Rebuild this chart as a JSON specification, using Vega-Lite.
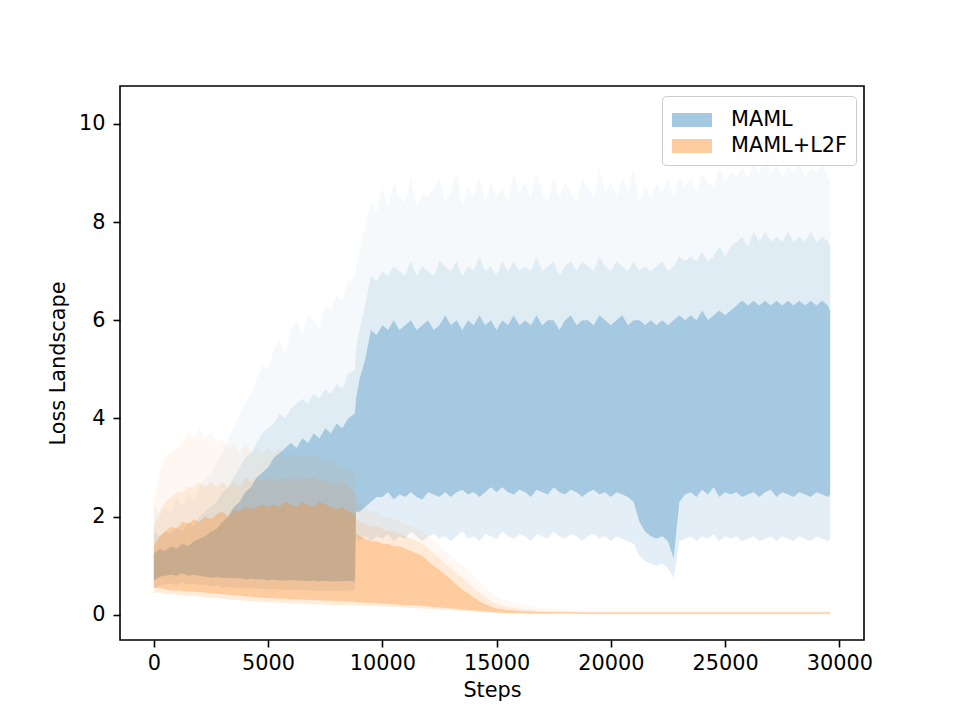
{
"$schema": "https://vega.github.io/schema/vega-lite/v6.json",
"width": 744, "height": 554,
"autosize": "none",
"padding": {"left": 120, "top": 86, "right": 96, "bottom": 80},
"background": "white",
"config": {
  "font": "DejaVu Sans",
  "view": {"stroke": "black", "strokeWidth": 1.6},
  "axis": {"domain": false, "grid": false, "tickColor": "black", "tickWidth": 1.6, "tickSize": 7,
           "labelFont": "DejaVu Sans", "labelFontSize": 20.8, "labelColor": "black",
           "titleFont": "DejaVu Sans", "titleFontSize": 20.8, "titleFontWeight": "normal", "titleColor": "black"},
  "axisX": {"labelPadding": 6, "titlePadding": 8},
  "axisY": {"labelPadding": 8, "titlePadding": 10},
  "legend": {"orient": "none", "legendX": 542, "legendY": 10, "padding": 9, "strokeColor": "#cccccc",
             "fillColor": "rgba(255,255,255,0.8)", "cornerRadius": 4, "labelFont": "DejaVu Sans",
             "labelFontSize": 20.8, "labelColor": "black",
             "symbolType": "M-1.333,-0.467L1.333,-0.467L1.333,0.467L-1.333,0.467Z",
             "symbolSize": 900, "symbolOpacity": 0.4, "symbolStrokeWidth": 0, "symbolOffset": 6, "labelOffset": 24, "rowPadding": 1}
},
"datasets": {
"maml": [
{"step":0,"lo_out":0.55,"lo":0.7,"hi":1.25,"hi_mid":1.7,"hi_out":2.3},
{"step":250,"lo_out":0.6,"lo":0.78,"hi":1.35,"hi_mid":1.6,"hi_out":2.0},
{"step":500,"lo_out":0.62,"lo":0.8,"hi":1.3,"hi_mid":1.7,"hi_out":2.2},
{"step":750,"lo_out":0.65,"lo":0.82,"hi":1.4,"hi_mid":1.65,"hi_out":2.1},
{"step":1000,"lo_out":0.6,"lo":0.8,"hi":1.35,"hi_mid":1.8,"hi_out":2.4},
{"step":1250,"lo_out":0.66,"lo":0.85,"hi":1.45,"hi_mid":1.7,"hi_out":2.2},
{"step":1500,"lo_out":0.62,"lo":0.8,"hi":1.4,"hi_mid":1.9,"hi_out":2.5},
{"step":1750,"lo_out":0.64,"lo":0.82,"hi":1.5,"hi_mid":1.8,"hi_out":2.3},
{"step":2000,"lo_out":0.6,"lo":0.8,"hi":1.55,"hi_mid":2.0,"hi_out":2.6},
{"step":2250,"lo_out":0.62,"lo":0.78,"hi":1.6,"hi_mid":2.1,"hi_out":2.8},
{"step":2500,"lo_out":0.58,"lo":0.76,"hi":1.7,"hi_mid":2.2,"hi_out":2.9},
{"step":2750,"lo_out":0.6,"lo":0.78,"hi":1.75,"hi_mid":2.3,"hi_out":3.1},
{"step":3000,"lo_out":0.55,"lo":0.75,"hi":1.9,"hi_mid":2.5,"hi_out":3.3},
{"step":3250,"lo_out":0.58,"lo":0.76,"hi":2.0,"hi_mid":2.6,"hi_out":3.6},
{"step":3500,"lo_out":0.56,"lo":0.74,"hi":2.2,"hi_mid":2.8,"hi_out":3.8},
{"step":3750,"lo_out":0.55,"lo":0.75,"hi":2.3,"hi_mid":3.0,"hi_out":4.1},
{"step":4000,"lo_out":0.54,"lo":0.72,"hi":2.5,"hi_mid":3.2,"hi_out":4.3},
{"step":4250,"lo_out":0.55,"lo":0.74,"hi":2.6,"hi_mid":3.3,"hi_out":4.5},
{"step":4500,"lo_out":0.53,"lo":0.72,"hi":2.8,"hi_mid":3.5,"hi_out":4.8},
{"step":4750,"lo_out":0.54,"lo":0.73,"hi":2.9,"hi_mid":3.7,"hi_out":5.1},
{"step":5000,"lo_out":0.52,"lo":0.7,"hi":3.0,"hi_mid":3.8,"hi_out":5.0},
{"step":5250,"lo_out":0.53,"lo":0.72,"hi":3.2,"hi_mid":3.9,"hi_out":5.4},
{"step":5500,"lo_out":0.52,"lo":0.7,"hi":3.3,"hi_mid":4.1,"hi_out":5.6},
{"step":5750,"lo_out":0.5,"lo":0.7,"hi":3.4,"hi_mid":4.0,"hi_out":5.3},
{"step":6000,"lo_out":0.52,"lo":0.71,"hi":3.5,"hi_mid":4.2,"hi_out":5.8},
{"step":6250,"lo_out":0.5,"lo":0.7,"hi":3.4,"hi_mid":4.3,"hi_out":6.0},
{"step":6500,"lo_out":0.51,"lo":0.7,"hi":3.6,"hi_mid":4.4,"hi_out":5.7},
{"step":6750,"lo_out":0.5,"lo":0.69,"hi":3.5,"hi_mid":4.3,"hi_out":6.1},
{"step":7000,"lo_out":0.5,"lo":0.7,"hi":3.7,"hi_mid":4.5,"hi_out":6.0},
{"step":7250,"lo_out":0.49,"lo":0.68,"hi":3.6,"hi_mid":4.4,"hi_out":5.8},
{"step":7500,"lo_out":0.5,"lo":0.7,"hi":3.8,"hi_mid":4.6,"hi_out":6.3},
{"step":7750,"lo_out":0.49,"lo":0.68,"hi":3.7,"hi_mid":4.5,"hi_out":6.2},
{"step":8000,"lo_out":0.5,"lo":0.69,"hi":3.9,"hi_mid":4.7,"hi_out":6.5},
{"step":8250,"lo_out":0.49,"lo":0.68,"hi":3.8,"hi_mid":4.6,"hi_out":6.4},
{"step":8500,"lo_out":0.5,"lo":0.7,"hi":4.0,"hi_mid":4.9,"hi_out":6.8},
{"step":8800,"lo_out":0.5,"lo":0.68,"hi":4.1,"hi_mid":5.0,"hi_out":6.9},
{"step":8850,"lo_out":1.6,"lo":2.1,"hi":4.4,"hi_mid":5.4,"hi_out":7.1},
{"step":9000,"lo_out":1.5,"lo":2.1,"hi":4.8,"hi_mid":5.8,"hi_out":7.4},
{"step":9250,"lo_out":1.6,"lo":2.2,"hi":5.2,"hi_mid":6.3,"hi_out":7.9},
{"step":9500,"lo_out":1.5,"lo":2.3,"hi":5.8,"hi_mid":6.9,"hi_out":8.4},
{"step":9750,"lo_out":1.6,"lo":2.4,"hi":5.7,"hi_mid":6.8,"hi_out":8.2},
{"step":10000,"lo_out":1.55,"lo":2.4,"hi":5.9,"hi_mid":7.0,"hi_out":8.7},
{"step":10250,"lo_out":1.65,"lo":2.5,"hi":5.8,"hi_mid":6.9,"hi_out":8.3},
{"step":10500,"lo_out":1.5,"lo":2.35,"hi":6.0,"hi_mid":7.1,"hi_out":8.8},
{"step":10750,"lo_out":1.6,"lo":2.45,"hi":5.8,"hi_mid":7.0,"hi_out":8.5},
{"step":11000,"lo_out":1.55,"lo":2.4,"hi":5.9,"hi_mid":6.9,"hi_out":8.4},
{"step":11250,"lo_out":1.7,"lo":2.5,"hi":6.0,"hi_mid":7.2,"hi_out":8.9},
{"step":11500,"lo_out":1.6,"lo":2.4,"hi":5.8,"hi_mid":6.9,"hi_out":8.3},
{"step":11750,"lo_out":1.5,"lo":2.35,"hi":5.9,"hi_mid":7.1,"hi_out":8.6},
{"step":12000,"lo_out":1.6,"lo":2.5,"hi":6.0,"hi_mid":7.0,"hi_out":8.5},
{"step":12250,"lo_out":1.65,"lo":2.45,"hi":5.8,"hi_mid":6.9,"hi_out":8.7},
{"step":12500,"lo_out":1.55,"lo":2.4,"hi":5.9,"hi_mid":7.2,"hi_out":8.9},
{"step":12750,"lo_out":1.6,"lo":2.5,"hi":6.1,"hi_mid":7.1,"hi_out":8.4},
{"step":13000,"lo_out":1.5,"lo":2.4,"hi":5.9,"hi_mid":7.0,"hi_out":8.6},
{"step":13250,"lo_out":1.6,"lo":2.5,"hi":6.0,"hi_mid":7.2,"hi_out":9.0},
{"step":13500,"lo_out":1.7,"lo":2.55,"hi":5.8,"hi_mid":6.9,"hi_out":8.3},
{"step":13750,"lo_out":1.55,"lo":2.45,"hi":6.0,"hi_mid":7.1,"hi_out":8.7},
{"step":14000,"lo_out":1.6,"lo":2.5,"hi":5.9,"hi_mid":7.0,"hi_out":8.5},
{"step":14250,"lo_out":1.5,"lo":2.4,"hi":6.1,"hi_mid":7.3,"hi_out":8.9},
{"step":14500,"lo_out":1.65,"lo":2.5,"hi":5.9,"hi_mid":7.0,"hi_out":8.4},
{"step":14750,"lo_out":1.6,"lo":2.6,"hi":6.0,"hi_mid":7.1,"hi_out":8.8},
{"step":15000,"lo_out":1.55,"lo":2.5,"hi":5.8,"hi_mid":6.9,"hi_out":8.5},
{"step":15250,"lo_out":1.7,"lo":2.6,"hi":6.0,"hi_mid":7.2,"hi_out":8.7},
{"step":15500,"lo_out":1.6,"lo":2.5,"hi":5.9,"hi_mid":7.0,"hi_out":8.4},
{"step":15750,"lo_out":1.55,"lo":2.45,"hi":6.1,"hi_mid":7.2,"hi_out":9.0},
{"step":16000,"lo_out":1.65,"lo":2.55,"hi":5.9,"hi_mid":7.0,"hi_out":8.6},
{"step":16250,"lo_out":1.6,"lo":2.5,"hi":6.0,"hi_mid":7.1,"hi_out":8.8},
{"step":16500,"lo_out":1.5,"lo":2.4,"hi":5.9,"hi_mid":7.0,"hi_out":8.5},
{"step":16750,"lo_out":1.65,"lo":2.55,"hi":6.1,"hi_mid":7.3,"hi_out":9.0},
{"step":17000,"lo_out":1.6,"lo":2.5,"hi":5.9,"hi_mid":7.0,"hi_out":8.6},
{"step":17250,"lo_out":1.55,"lo":2.45,"hi":6.0,"hi_mid":7.1,"hi_out":8.4},
{"step":17500,"lo_out":1.7,"lo":2.6,"hi":6.0,"hi_mid":7.2,"hi_out":8.9},
{"step":17750,"lo_out":1.6,"lo":2.5,"hi":5.8,"hi_mid":6.9,"hi_out":8.5},
{"step":18000,"lo_out":1.55,"lo":2.45,"hi":6.0,"hi_mid":7.1,"hi_out":8.8},
{"step":18250,"lo_out":1.65,"lo":2.55,"hi":6.1,"hi_mid":7.2,"hi_out":8.6},
{"step":18500,"lo_out":1.6,"lo":2.5,"hi":5.9,"hi_mid":7.0,"hi_out":8.4},
{"step":18750,"lo_out":1.5,"lo":2.4,"hi":6.0,"hi_mid":7.2,"hi_out":8.9},
{"step":19000,"lo_out":1.6,"lo":2.5,"hi":6.0,"hi_mid":7.1,"hi_out":8.7},
{"step":19250,"lo_out":1.65,"lo":2.55,"hi":5.9,"hi_mid":7.0,"hi_out":8.5},
{"step":19500,"lo_out":1.55,"lo":2.45,"hi":6.1,"hi_mid":7.3,"hi_out":9.1},
{"step":19750,"lo_out":1.6,"lo":2.5,"hi":6.0,"hi_mid":7.1,"hi_out":8.6},
{"step":20000,"lo_out":1.5,"lo":2.4,"hi":5.9,"hi_mid":7.0,"hi_out":8.8},
{"step":20250,"lo_out":1.6,"lo":2.5,"hi":6.0,"hi_mid":7.2,"hi_out":8.5},
{"step":20500,"lo_out":1.55,"lo":2.45,"hi":6.1,"hi_mid":7.1,"hi_out":8.9},
{"step":20750,"lo_out":1.5,"lo":2.4,"hi":5.9,"hi_mid":7.0,"hi_out":8.6},
{"step":21000,"lo_out":1.45,"lo":2.3,"hi":6.0,"hi_mid":7.2,"hi_out":9.1},
{"step":21250,"lo_out":1.2,"lo":1.9,"hi":6.0,"hi_mid":7.0,"hi_out":8.4},
{"step":21500,"lo_out":1.1,"lo":1.7,"hi":5.9,"hi_mid":7.1,"hi_out":8.7},
{"step":21750,"lo_out":1.05,"lo":1.6,"hi":6.0,"hi_mid":7.0,"hi_out":8.5},
{"step":22000,"lo_out":1.0,"lo":1.55,"hi":5.9,"hi_mid":7.1,"hi_out":8.8},
{"step":22250,"lo_out":1.05,"lo":1.6,"hi":6.0,"hi_mid":7.2,"hi_out":8.6},
{"step":22500,"lo_out":0.95,"lo":1.5,"hi":5.9,"hi_mid":7.0,"hi_out":8.9},
{"step":22750,"lo_out":0.75,"lo":1.15,"hi":6.0,"hi_mid":7.1,"hi_out":8.5},
{"step":23000,"lo_out":1.5,"lo":2.3,"hi":6.1,"hi_mid":7.3,"hi_out":8.9},
{"step":23250,"lo_out":1.55,"lo":2.45,"hi":6.0,"hi_mid":7.2,"hi_out":8.7},
{"step":23500,"lo_out":1.6,"lo":2.5,"hi":6.1,"hi_mid":7.3,"hi_out":8.9},
{"step":23750,"lo_out":1.5,"lo":2.4,"hi":6.0,"hi_mid":7.2,"hi_out":8.6},
{"step":24000,"lo_out":1.6,"lo":2.55,"hi":6.2,"hi_mid":7.4,"hi_out":9.0},
{"step":24250,"lo_out":1.55,"lo":2.45,"hi":6.0,"hi_mid":7.2,"hi_out":8.8},
{"step":24500,"lo_out":1.65,"lo":2.6,"hi":6.1,"hi_mid":7.3,"hi_out":8.7},
{"step":24750,"lo_out":1.5,"lo":2.4,"hi":6.2,"hi_mid":7.5,"hi_out":9.1},
{"step":25000,"lo_out":1.6,"lo":2.5,"hi":6.1,"hi_mid":7.3,"hi_out":8.8},
{"step":25250,"lo_out":1.55,"lo":2.45,"hi":6.2,"hi_mid":7.5,"hi_out":9.0},
{"step":25500,"lo_out":1.6,"lo":2.5,"hi":6.3,"hi_mid":7.6,"hi_out":8.9},
{"step":25750,"lo_out":1.5,"lo":2.4,"hi":6.4,"hi_mid":7.7,"hi_out":9.1},
{"step":26000,"lo_out":1.55,"lo":2.45,"hi":6.3,"hi_mid":7.5,"hi_out":8.9},
{"step":26250,"lo_out":1.6,"lo":2.5,"hi":6.4,"hi_mid":7.8,"hi_out":9.2},
{"step":26500,"lo_out":1.5,"lo":2.4,"hi":6.3,"hi_mid":7.6,"hi_out":9.0},
{"step":26750,"lo_out":1.55,"lo":2.5,"hi":6.4,"hi_mid":7.8,"hi_out":9.3},
{"step":27000,"lo_out":1.6,"lo":2.55,"hi":6.3,"hi_mid":7.6,"hi_out":9.0},
{"step":27250,"lo_out":1.5,"lo":2.4,"hi":6.4,"hi_mid":7.7,"hi_out":9.2},
{"step":27500,"lo_out":1.6,"lo":2.5,"hi":6.3,"hi_mid":7.6,"hi_out":8.9},
{"step":27750,"lo_out":1.55,"lo":2.45,"hi":6.4,"hi_mid":7.8,"hi_out":9.1},
{"step":28000,"lo_out":1.5,"lo":2.4,"hi":6.3,"hi_mid":7.6,"hi_out":9.0},
{"step":28250,"lo_out":1.6,"lo":2.5,"hi":6.4,"hi_mid":7.7,"hi_out":9.2},
{"step":28500,"lo_out":1.55,"lo":2.45,"hi":6.3,"hi_mid":7.6,"hi_out":8.9},
{"step":28750,"lo_out":1.5,"lo":2.4,"hi":6.4,"hi_mid":7.8,"hi_out":9.1},
{"step":29000,"lo_out":1.6,"lo":2.5,"hi":6.3,"hi_mid":7.6,"hi_out":9.0},
{"step":29250,"lo_out":1.55,"lo":2.45,"hi":6.4,"hi_mid":7.7,"hi_out":9.2},
{"step":29500,"lo_out":1.5,"lo":2.4,"hi":6.3,"hi_mid":7.6,"hi_out":8.9},
{"step":29600,"lo_out":1.55,"lo":2.45,"hi":6.2,"hi_mid":7.5,"hi_out":8.8}
],
"l2f": [
{"step":0,"lo_out":0.45,"lo":0.55,"hi":1.4,"hi_mid":1.8,"hi_out":2.3},
{"step":250,"lo_out":0.45,"lo":0.55,"hi":1.6,"hi_mid":2.1,"hi_out":2.9},
{"step":500,"lo_out":0.42,"lo":0.52,"hi":1.7,"hi_mid":2.3,"hi_out":3.2},
{"step":750,"lo_out":0.43,"lo":0.5,"hi":1.8,"hi_mid":2.4,"hi_out":3.3},
{"step":1000,"lo_out":0.4,"lo":0.5,"hi":1.75,"hi_mid":2.5,"hi_out":3.4},
{"step":1250,"lo_out":0.41,"lo":0.49,"hi":1.9,"hi_mid":2.5,"hi_out":3.5},
{"step":1500,"lo_out":0.38,"lo":0.47,"hi":1.85,"hi_mid":2.6,"hi_out":3.7},
{"step":1750,"lo_out":0.39,"lo":0.48,"hi":1.95,"hi_mid":2.6,"hi_out":3.6},
{"step":2000,"lo_out":0.37,"lo":0.46,"hi":1.9,"hi_mid":2.7,"hi_out":3.8},
{"step":2250,"lo_out":0.36,"lo":0.45,"hi":2.0,"hi_mid":2.6,"hi_out":3.6},
{"step":2500,"lo_out":0.35,"lo":0.44,"hi":1.95,"hi_mid":2.7,"hi_out":3.7},
{"step":2750,"lo_out":0.35,"lo":0.43,"hi":2.05,"hi_mid":2.6,"hi_out":3.5},
{"step":3000,"lo_out":0.33,"lo":0.42,"hi":2.1,"hi_mid":2.7,"hi_out":3.6},
{"step":3250,"lo_out":0.32,"lo":0.41,"hi":2.0,"hi_mid":2.6,"hi_out":3.4},
{"step":3500,"lo_out":0.31,"lo":0.4,"hi":2.15,"hi_mid":2.7,"hi_out":3.5},
{"step":3750,"lo_out":0.3,"lo":0.39,"hi":2.1,"hi_mid":2.6,"hi_out":3.3},
{"step":4000,"lo_out":0.29,"lo":0.38,"hi":2.2,"hi_mid":2.8,"hi_out":3.5},
{"step":4250,"lo_out":0.28,"lo":0.37,"hi":2.15,"hi_mid":2.7,"hi_out":3.3},
{"step":4500,"lo_out":0.27,"lo":0.36,"hi":2.2,"hi_mid":2.8,"hi_out":3.4},
{"step":4750,"lo_out":0.27,"lo":0.35,"hi":2.25,"hi_mid":2.7,"hi_out":3.3},
{"step":5000,"lo_out":0.26,"lo":0.34,"hi":2.2,"hi_mid":2.8,"hi_out":3.4},
{"step":5250,"lo_out":0.26,"lo":0.34,"hi":2.25,"hi_mid":2.7,"hi_out":3.3},
{"step":5500,"lo_out":0.25,"lo":0.33,"hi":2.2,"hi_mid":2.8,"hi_out":3.4},
{"step":5750,"lo_out":0.25,"lo":0.33,"hi":2.3,"hi_mid":2.75,"hi_out":3.2},
{"step":6000,"lo_out":0.24,"lo":0.32,"hi":2.25,"hi_mid":2.8,"hi_out":3.3},
{"step":6250,"lo_out":0.24,"lo":0.32,"hi":2.2,"hi_mid":2.7,"hi_out":3.2},
{"step":6500,"lo_out":0.23,"lo":0.31,"hi":2.3,"hi_mid":2.8,"hi_out":3.3},
{"step":6750,"lo_out":0.23,"lo":0.31,"hi":2.25,"hi_mid":2.75,"hi_out":3.2},
{"step":7000,"lo_out":0.22,"lo":0.3,"hi":2.2,"hi_mid":2.8,"hi_out":3.3},
{"step":7250,"lo_out":0.22,"lo":0.3,"hi":2.3,"hi_mid":2.7,"hi_out":3.2},
{"step":7500,"lo_out":0.21,"lo":0.29,"hi":2.25,"hi_mid":2.75,"hi_out":3.1},
{"step":7750,"lo_out":0.21,"lo":0.29,"hi":2.2,"hi_mid":2.7,"hi_out":3.2},
{"step":8000,"lo_out":0.2,"lo":0.28,"hi":2.15,"hi_mid":2.65,"hi_out":3.1},
{"step":8250,"lo_out":0.2,"lo":0.28,"hi":2.2,"hi_mid":2.7,"hi_out":3.0},
{"step":8500,"lo_out":0.2,"lo":0.27,"hi":2.1,"hi_mid":2.6,"hi_out":3.0},
{"step":8800,"lo_out":0.19,"lo":0.27,"hi":2.05,"hi_mid":2.5,"hi_out":2.9},
{"step":8850,"lo_out":0.19,"lo":0.26,"hi":1.65,"hi_mid":1.95,"hi_out":2.4},
{"step":9000,"lo_out":0.19,"lo":0.26,"hi":1.6,"hi_mid":1.9,"hi_out":2.3},
{"step":9250,"lo_out":0.19,"lo":0.25,"hi":1.55,"hi_mid":1.85,"hi_out":2.2},
{"step":9500,"lo_out":0.18,"lo":0.25,"hi":1.5,"hi_mid":1.8,"hi_out":2.1},
{"step":9750,"lo_out":0.18,"lo":0.24,"hi":1.5,"hi_mid":1.8,"hi_out":2.1},
{"step":10000,"lo_out":0.17,"lo":0.23,"hi":1.45,"hi_mid":1.75,"hi_out":2.0},
{"step":10250,"lo_out":0.17,"lo":0.23,"hi":1.45,"hi_mid":1.7,"hi_out":2.0},
{"step":10500,"lo_out":0.16,"lo":0.22,"hi":1.4,"hi_mid":1.7,"hi_out":1.95},
{"step":10750,"lo_out":0.16,"lo":0.21,"hi":1.4,"hi_mid":1.65,"hi_out":1.9},
{"step":11000,"lo_out":0.15,"lo":0.2,"hi":1.35,"hi_mid":1.6,"hi_out":1.85},
{"step":11250,"lo_out":0.14,"lo":0.2,"hi":1.3,"hi_mid":1.55,"hi_out":1.8},
{"step":11500,"lo_out":0.14,"lo":0.19,"hi":1.25,"hi_mid":1.5,"hi_out":1.75},
{"step":11750,"lo_out":0.13,"lo":0.18,"hi":1.2,"hi_mid":1.45,"hi_out":1.7},
{"step":12000,"lo_out":0.12,"lo":0.17,"hi":1.1,"hi_mid":1.35,"hi_out":1.6},
{"step":12250,"lo_out":0.12,"lo":0.16,"hi":1.0,"hi_mid":1.25,"hi_out":1.5},
{"step":12500,"lo_out":0.11,"lo":0.15,"hi":0.92,"hi_mid":1.15,"hi_out":1.4},
{"step":12750,"lo_out":0.1,"lo":0.14,"hi":0.82,"hi_mid":1.05,"hi_out":1.3},
{"step":13000,"lo_out":0.1,"lo":0.13,"hi":0.72,"hi_mid":0.95,"hi_out":1.2},
{"step":13250,"lo_out":0.09,"lo":0.12,"hi":0.62,"hi_mid":0.85,"hi_out":1.1},
{"step":13500,"lo_out":0.08,"lo":0.11,"hi":0.52,"hi_mid":0.75,"hi_out":1.0},
{"step":13750,"lo_out":0.08,"lo":0.1,"hi":0.44,"hi_mid":0.65,"hi_out":0.9},
{"step":14000,"lo_out":0.07,"lo":0.09,"hi":0.36,"hi_mid":0.55,"hi_out":0.8},
{"step":14250,"lo_out":0.06,"lo":0.08,"hi":0.28,"hi_mid":0.45,"hi_out":0.65},
{"step":14500,"lo_out":0.05,"lo":0.07,"hi":0.22,"hi_mid":0.36,"hi_out":0.55},
{"step":14750,"lo_out":0.05,"lo":0.06,"hi":0.17,"hi_mid":0.28,"hi_out":0.45},
{"step":15000,"lo_out":0.04,"lo":0.05,"hi":0.13,"hi_mid":0.22,"hi_out":0.35},
{"step":15500,"lo_out":0.03,"lo":0.04,"hi":0.1,"hi_mid":0.16,"hi_out":0.28},
{"step":16000,"lo_out":0.03,"lo":0.04,"hi":0.08,"hi_mid":0.12,"hi_out":0.22},
{"step":16500,"lo_out":0.02,"lo":0.03,"hi":0.07,"hi_mid":0.1,"hi_out":0.18},
{"step":17000,"lo_out":0.02,"lo":0.03,"hi":0.06,"hi_mid":0.08,"hi_out":0.14},
{"step":18000,"lo_out":0.02,"lo":0.03,"hi":0.055,"hi_mid":0.07,"hi_out":0.1},
{"step":19000,"lo_out":0.015,"lo":0.025,"hi":0.05,"hi_mid":0.06,"hi_out":0.08},
{"step":21000,"lo_out":0.015,"lo":0.025,"hi":0.05,"hi_mid":0.06,"hi_out":0.08},
{"step":23000,"lo_out":0.015,"lo":0.025,"hi":0.05,"hi_mid":0.06,"hi_out":0.08},
{"step":25000,"lo_out":0.015,"lo":0.025,"hi":0.05,"hi_mid":0.06,"hi_out":0.08},
{"step":27000,"lo_out":0.015,"lo":0.025,"hi":0.05,"hi_mid":0.06,"hi_out":0.08},
{"step":29600,"lo_out":0.015,"lo":0.025,"hi":0.05,"hi_mid":0.06,"hi_out":0.08}
]
},
"encoding": {
  "x": {"field": "step", "type": "quantitative", "title": "Steps",
        "scale": {"domain": [-1480, 31080], "nice": false, "zero": false},
        "axis": {"values": [0, 5000, 10000, 15000, 20000, 25000, 30000], "format": "d"}}
},
"layer": [
  {"data": {"name": "maml"}, "mark": {"type": "area", "opacity": 0.12},
   "encoding": {"y": {"field": "lo_out", "type": "quantitative", "title": "Loss Landscape", "scale": {"domain": [-0.51, 10.77], "nice": false, "zero": false}, "axis": {"values": [0, 2, 4, 6, 8, 10], "format": "d"}},
                "y2": {"field": "lo"},
                "color": {"datum": "MAML", "scale": {"domain": ["MAML", "MAML+L2F"], "range": ["#1f77b4", "#ff7f0e"]}, "legend": {"title": null}}}},
  {"data": {"name": "maml"}, "mark": {"type": "area", "opacity": 0.4},
   "encoding": {"y": {"field": "lo", "type": "quantitative", "title": "Loss Landscape"}, "y2": {"field": "hi"},
                "color": {"datum": "MAML"}}},
  {"data": {"name": "maml"}, "mark": {"type": "area", "opacity": 0.14},
   "encoding": {"y": {"field": "hi", "type": "quantitative", "title": "Loss Landscape"}, "y2": {"field": "hi_mid"},
                "color": {"datum": "MAML"}}},
  {"data": {"name": "maml"}, "mark": {"type": "area", "opacity": 0.045},
   "encoding": {"y": {"field": "hi_mid", "type": "quantitative", "title": "Loss Landscape"}, "y2": {"field": "hi_out"},
                "color": {"datum": "MAML"}}},
  {"data": {"name": "l2f"}, "mark": {"type": "area", "opacity": 0.15},
   "encoding": {"y": {"field": "lo_out", "type": "quantitative", "title": "Loss Landscape"}, "y2": {"field": "lo"},
                "color": {"datum": "MAML+L2F"}}},
  {"data": {"name": "l2f"}, "mark": {"type": "area", "opacity": 0.4},
   "encoding": {"y": {"field": "lo", "type": "quantitative", "title": "Loss Landscape"}, "y2": {"field": "hi"},
                "color": {"datum": "MAML+L2F"}}},
  {"data": {"name": "l2f"}, "mark": {"type": "area", "opacity": 0.16},
   "encoding": {"y": {"field": "hi", "type": "quantitative", "title": "Loss Landscape"}, "y2": {"field": "hi_mid"},
                "color": {"datum": "MAML+L2F"}}},
  {"data": {"name": "l2f"}, "mark": {"type": "area", "opacity": 0.06},
   "encoding": {"y": {"field": "hi_mid", "type": "quantitative", "title": "Loss Landscape"}, "y2": {"field": "hi_out"},
                "color": {"datum": "MAML+L2F"}}}
]
}
